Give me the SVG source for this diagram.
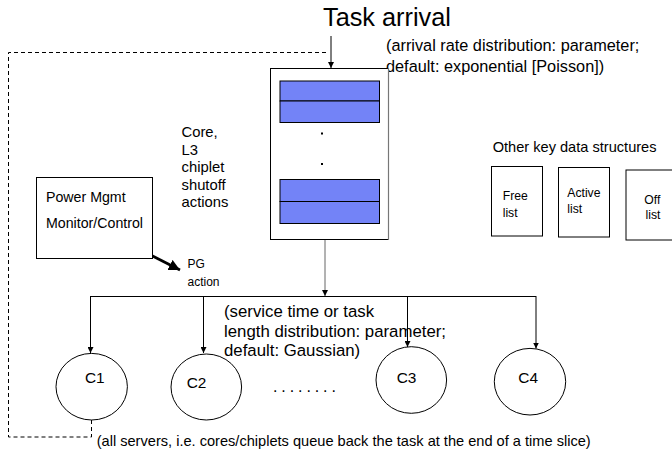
<svg xmlns="http://www.w3.org/2000/svg" width="672" height="455" viewBox="0 0 672 455">
<defs>
<marker id="ah" viewBox="0 0 10 10" refX="10" refY="5" markerWidth="6" markerHeight="6" markerUnits="userSpaceOnUse" orient="auto"><path d="M0,0 L10,5 L0,10 z" fill="#000"/></marker>
<marker id="ahb" viewBox="0 0 10 10" refX="10" refY="5" markerWidth="4" markerHeight="4" orient="auto"><path d="M0,0 L10,5 L0,10 z" fill="#000"/></marker>
<style>
text{font-family:"Liberation Sans",Arial,sans-serif;fill:#000}
.ln{stroke:#000;stroke-width:1;fill:none}
.dash{stroke:#000;stroke-width:1;fill:none;stroke-dasharray:4,3}
.box{fill:#fff;stroke:#000;stroke-width:1}
.blue{fill:#7383f7;stroke:#000;stroke-width:1}
.ell{fill:#fff;stroke:#000;stroke-width:1}
</style>
</defs>
<rect width="672" height="455" fill="#fff"/>

<g id="connectors">
<path class="dash" d="M91.5,420 V437 H8.5 V52.5 H328"/>
<line class="ln" x1="331" y1="36" x2="331" y2="68" marker-end="url(#ah)"/>
<line x1="325" y1="240" x2="325" y2="296" stroke="#666" stroke-width="1" marker-end="url(#ah)"/>
<path class="ln" d="M90.5,296.5 H536"/>
<line class="ln" x1="90.5" y1="296" x2="90.5" y2="353" marker-end="url(#ah)"/>
<line class="ln" x1="203.5" y1="296" x2="203.5" y2="353" marker-end="url(#ah)"/>
<line class="ln" x1="407.5" y1="296" x2="407.5" y2="347" marker-end="url(#ah)"/>
<line class="ln" x1="536" y1="296" x2="536" y2="348.5" marker-end="url(#ah)"/>
<line x1="133" y1="246" x2="180" y2="270" stroke="#000" stroke-width="2.8" marker-end="url(#ahb)"/>
</g>

<g id="title">
<text x="323" y="26" font-size="25.3">Task arrival</text>
<text x="386" y="51" font-size="16.3">(arrival rate distribution: parameter;</text>
<text x="386" y="72" font-size="16.3">default: exponential [Poisson])</text>
</g>

<g id="queue">
<rect class="box" x="270.5" y="68.5" width="118" height="171"/>
<line x1="388.5" y1="68" x2="388.5" y2="240" stroke="#777" stroke-width="1.2"/>
<rect class="blue" x="280" y="81" width="99.5" height="20"/>
<rect class="blue" x="280" y="101" width="99.5" height="21.5"/>
<rect x="321" y="132.5" width="2" height="2" fill="#000"/>
<rect x="321" y="163" width="2" height="2" fill="#000"/>
<rect class="blue" x="280" y="179.5" width="99.5" height="22"/>
<rect class="blue" x="280" y="201.5" width="99.5" height="22"/>
</g>

<g id="shutoff-label">
<text font-size="14.8"><tspan x="181.5" y="137">Core,</tspan><tspan x="181.5" y="154.5">L3</tspan><tspan x="181.5" y="172">chiplet</tspan><tspan x="181.5" y="189.5">shutoff</tspan><tspan x="181.5" y="207">actions</tspan></text>
</g>

<g id="power-mgmt">
<rect class="box" x="36.5" y="177.5" width="116" height="81"/>
<text x="46" y="201.5" font-size="14.2">Power Mgmt</text>
<text x="46" y="227.5" font-size="14.2">Monitor/Control</text>
</g>

<g id="pg-action">
<text font-size="12"><tspan x="187.5" y="268">PG</tspan><tspan x="187.5" y="286">action</tspan></text>
</g>

<g id="data-structures">
<text x="492.7" y="151.7" font-size="14.6">Other key data structures</text>
</g>
<g id="free-list">
<rect class="box" x="491.5" y="166.5" width="51" height="69.5"/>
<text font-size="12.2"><tspan x="502.7" y="200">Free</tspan><tspan x="502.7" y="217.3">list</tspan></text>
</g>
<g id="active-list">
<rect class="box" x="558.5" y="167.5" width="51" height="69.5"/>
<text font-size="12.2"><tspan x="567.3" y="196.7">Active</tspan><tspan x="567.3" y="212.7">list</tspan></text>
</g>
<g id="off-list">
<rect class="box" x="626" y="170" width="50" height="70"/>
<text font-size="12.2"><tspan x="644.3" y="204">Off</tspan><tspan x="645.5" y="219.3">list</tspan></text>
</g>

<g id="service-label">
<text font-size="16.8"><tspan x="224" y="317">(service time or task</tspan><tspan x="224" y="337">length distribution: parameter;</tspan><tspan x="224" y="356">default: Gaussian)</tspan></text>
</g>

<g id="C1">
<ellipse class="ell" cx="91.7" cy="386.7" rx="35.7" ry="33.3"/>
<text x="85" y="382.7" font-size="15.4">C1</text>
</g>
<g id="C2">
<ellipse class="ell" cx="206.3" cy="387" rx="35.3" ry="33"/>
<text x="186.7" y="388.3" font-size="15.4">C2</text>
</g>
<g id="dots">
<text x="273" y="392" font-size="16" letter-spacing="3.9">........</text>
</g>
<g id="C3">
<ellipse class="ell" cx="411.3" cy="380" rx="35.3" ry="33.3"/>
<text x="396.7" y="383.3" font-size="15.4">C3</text>
</g>
<g id="C4">
<ellipse class="ell" cx="530" cy="381.7" rx="35.7" ry="33.3"/>
<text x="518.3" y="383.3" font-size="15.4">C4</text>
</g>

<g id="footer">
<text x="96.7" y="446" font-size="14.6">(all servers, i.e. cores/chiplets queue back the task at the end of a time slice)</text>
</g>
</svg>
